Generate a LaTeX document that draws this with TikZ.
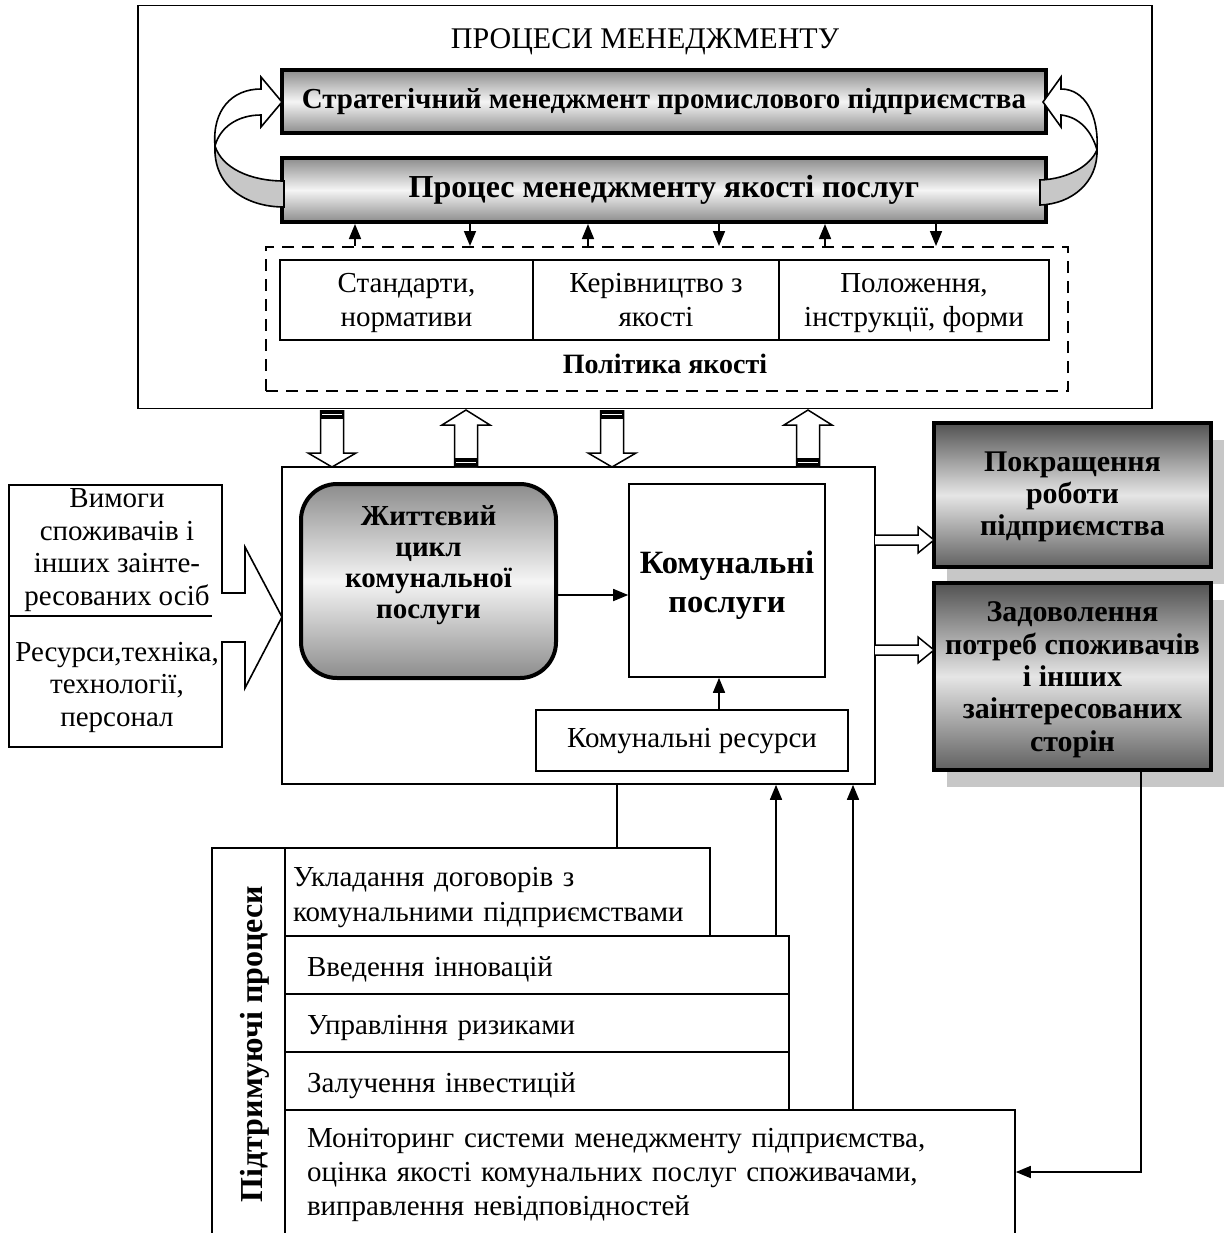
\documentclass[tikz,border=0pt]{standalone}
\usepackage{fontspec}
\setmainfont{Liberation Serif}
\usetikzlibrary{arrows.meta,shadows}

\begin{document}
\begin{tikzpicture}[
  every node/.style={inner sep=0pt, align=center, font=\fontsize{29bp}{34bp}\selectfont, execute at begin node=\strut, execute at end node=\strut},
  box/.style={draw, line width=1.6bp},
  barbox/.style={draw, line width=4bp, top color=black!45, bottom color=black!45, middle color=black!4},
  goalbox/.style={draw, line width=4bp, top color=black!68, bottom color=black!62, middle color=black!10, general shadow={fill=black!22, shadow xshift=13bp, shadow yshift=-17bp}, font=\bfseries\fontsize{30bp}{32.3bp}\selectfont},
  rowbox/.style={box, inner xsep=22bp, align=left},
  hollow/.style={draw, line width=1.5bp, fill=white},
  flow/.style={line width=1.6bp, -{Triangle[length=15bp,width=12bp]}}
]
\useasboundingbox (0,0) rectangle (1227bp,-1233bp);

\node (mgmt) at (645bp,-207bp) [box, minimum width=1014bp, minimum height=403bp] {};
\node (mgmttitle) at (645bp,-42bp) [font=\fontsize{30bp}{34bp}\selectfont] {ПРОЦЕСИ МЕНЕДЖМЕНТУ};
\node (strat) at (664bp,-101.5bp) [barbox, minimum width=764bp, minimum height=63bp, font=\bfseries\fontsize{29bp}{34bp}\selectfont] {Стратегічний менеджмент промислового підприємства};
\node (qproc) at (664bp,-190bp) [barbox, minimum width=764bp, minimum height=64bp, font=\bfseries\fontsize{32bp}{36bp}\selectfont] {Процес менеджменту якості послуг};

\draw[box, fill=black!22] (215bp,-146bp) .. controls (213bp,-186bp) and (246bp,-207bp) .. (284bp,-207bp) -- (284bp,-181bp) .. controls (250bp,-181bp) and (222bp,-168bp) .. (215bp,-146bp) -- cycle;
\draw[box, fill=white] (215bp,-146bp) .. controls (212bp,-110bp) and (232bp,-89bp) .. (261bp,-89bp) -- (261bp,-77bp) -- (282bp,-102bp) -- (261bp,-127bp) -- (261bp,-115bp) .. controls (238bp,-115bp) and (220bp,-127bp) .. (215bp,-146bp) -- cycle;
\draw[box, fill=black!22] (1097bp,-150bp) .. controls (1098bp,-182bp) and (1072bp,-204bp) .. (1040bp,-205bp) -- (1040bp,-180bp) .. controls (1068bp,-179bp) and (1090bp,-166bp) .. (1097bp,-150bp) -- cycle;
\draw[box, fill=white] (1097bp,-150bp) .. controls (1099bp,-115bp) and (1085bp,-89bp) .. (1061bp,-89bp) -- (1061bp,-77bp) -- (1043bp,-102bp) -- (1061bp,-127bp) -- (1061bp,-115bp) .. controls (1080bp,-117bp) and (1092bp,-132bp) .. (1097bp,-150bp) -- cycle;

\node (policy) at (667bp,-319bp) [draw, line width=2bp, dash pattern=on 12bp off 8bp, minimum width=802bp, minimum height=144bp] {};
\node (std) at (406.5bp,-300bp) [box, minimum width=253bp, minimum height=80bp, text height=64bp] {Стандарти,\\нормативи};
\node (guide) at (656bp,-300bp) [box, minimum width=246bp, minimum height=80bp, text height=64bp] {Керівництво з\\якості};
\node (regs) at (914bp,-300bp) [box, minimum width=270bp, minimum height=80bp, text height=64bp] {Положення,\\інструкції, форми};
\node (policylbl) at (665bp,-367bp) [font=\bfseries\fontsize{28bp}{34bp}\selectfont] {Політика якості};

\foreach \x/\n in {355/u1,588/u2,825/u3,470/d1,719/d2,936/d3}
  \coordinate (\n) at (\x bp,0);
\foreach \n in {u1,u2,u3}
  \draw[flow] (policy.north -| \n) -- (qproc.south -| \n);
\foreach \n in {d1,d2,d3}
  \draw[flow] (qproc.south -| \n) -- (policy.north -| \n);

\node (core) at (578.5bp,-625.5bp) [box, minimum width=593bp, minimum height=317bp] {};
\node (life) at (428.5bp,-581bp) [barbox, rounded corners=36bp, minimum width=255bp, minimum height=194bp] {};
\node (lifetxt) at (428.5bp,-567bp) [font=\bfseries\fontsize{29bp}{31bp}\selectfont] {Життєвий\\цикл\\комунальної\\послуги};
\node (svc) at (727bp,-580.5bp) [box, minimum width=196bp, minimum height=193bp, text height=75bp, font=\bfseries\fontsize{32.5bp}{39bp}\selectfont] {Комунальні\\послуги};
\node (res) at (692bp,-740.5bp) [box, minimum width=312bp, minimum height=61bp] {Комунальні ресурси};
\draw[flow] ([yshift=-14bp]life.east) -- ([yshift=-14bp]life.east -| svc.west);
\coordinate (r1) at (719bp,0);
\draw[flow] (res.north -| r1) -- (svc.south -| r1);

\foreach \x in {332,612} {
  \draw[hollow, xshift=\x bp] (-11.5bp,-410bp) -- (-11.5bp,-453bp) -- (-24bp,-453bp) -- (0,-467bp) -- (24bp,-453bp) -- (11.5bp,-453bp) -- (11.5bp,-410bp);
  \fill[xshift=\x bp] (-11.5bp,-410bp) rectangle (11.5bp,-419bp);
  \draw[white, line width=1.5bp, xshift=\x bp] (-10bp,-414.5bp) -- (10bp,-414.5bp);
}
\foreach \x in {466,808} {
  \draw[hollow, xshift=\x bp] (-11.5bp,-467bp) -- (-11.5bp,-425bp) -- (-24bp,-425bp) -- (0,-410bp) -- (24bp,-425bp) -- (11.5bp,-425bp) -- (11.5bp,-467bp);
  \fill[xshift=\x bp] (-11.5bp,-458bp) rectangle (11.5bp,-467bp);
  \draw[white, line width=1.5bp, xshift=\x bp] (-10bp,-462.5bp) -- (10bp,-462.5bp);
}

\draw[box, fill=white] (9bp,-485bp) -- (222bp,-485bp) -- (222bp,-593bp) -- (245bp,-593bp) -- (245bp,-547bp) -- (282bp,-617bp) -- (245bp,-688bp) -- (245bp,-642bp) -- (222bp,-642bp) -- (222bp,-747bp) -- (9bp,-747bp) -- cycle;
\draw[box] (9bp,-616bp) -- (212bp,-616bp);
\node (req) at (117bp,-552bp) [font=\fontsize{29bp}{32.5bp}\selectfont] {Вимоги\\споживачів і\\інших заінте-\\ресованих осіб};
\node (rsrc) at (117bp,-689bp) [font=\fontsize{29bp}{32.5bp}\selectfont] {Ресурси,техніка,\\технології,\\персонал};

\node (impr) at (1072.5bp,-495bp) [goalbox, minimum width=277bp, minimum height=144bp, text height=91bp] {Покращення\\роботи\\підприємства};
\node (satis) at (1072.5bp,-676.5bp) [goalbox, minimum width=277bp, minimum height=187bp, text height=159bp] {Задоволення\\потреб споживачів\\і інших\\заінтересованих\\сторін};
\foreach \y in {540,650}
  \draw[hollow, yshift=-\y bp] (875bp,5bp) -- (918bp,5bp) -- (918bp,13bp) -- (934bp,0) -- (918bp,-13bp) -- (918bp,-5bp) -- (875bp,-5bp);

\node (supp) at (248.5bp,-1044bp) [box, rotate=90, minimum width=392bp, minimum height=73bp, text height=34bp, text depth=6bp, font=\bfseries\fontsize{32bp}{36bp}\selectfont] {Підтримуючі процеси};
\node (contr) at (497.5bp,-892bp) [rowbox, inner xsep=8bp, text width=409bp, minimum height=88bp, text height=34.5bp, font=\fontsize{29bp}{35bp}\selectfont] {Укладання договорів з\\комунальними підприємствами};
\node (innov) at (537bp,-965bp) [rowbox, text width=460bp, minimum height=58bp, text height=32.8bp] {Введення інновацій};
\node (risk) at (537bp,-1023bp) [rowbox, text width=460bp, minimum height=58bp, text height=32.8bp] {Управління ризиками};
\node (invest) at (537bp,-1081bp) [rowbox, text width=460bp, minimum height=58bp, text height=32.8bp] {Залучення інвестицій};
\node (monit) at (650bp,-1175bp) [rowbox, text width=686bp, minimum height=130bp] {Моніторинг системи менеджменту підприємства,\\оцінка якості комунальних послуг споживачами,\\виправлення невідповідностей};

\coordinate (k1) at (617bp,0);
\coordinate (k2) at (776bp,0);
\coordinate (k3) at (853bp,0);
\draw[line width=1.6bp] (contr.north -| k1) -- (core.south -| k1);
\draw[flow] (innov.north -| k2) -- (core.south -| k2);
\draw[flow] (monit.north -| k3) -- (core.south -| k3);
\coordinate (fb) at (1141bp,-1172bp);
\draw[flow] (satis.south -| fb) |- (monit.east |- fb);
\end{tikzpicture}
\end{document}
